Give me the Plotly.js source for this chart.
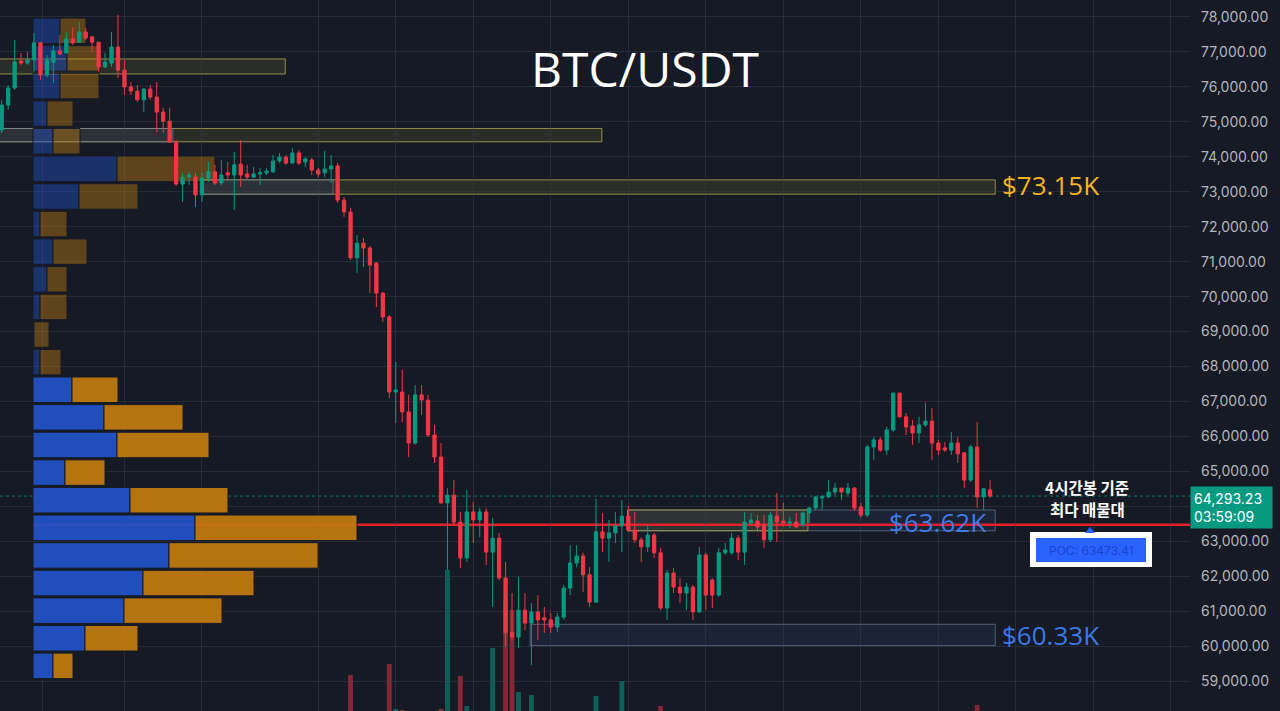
<!DOCTYPE html>
<html><head><meta charset="utf-8">
<script src="https://cdn.plot.ly/plotly-3.0.1.min.js"></script>
<style>html,body{margin:0;padding:0;background:#161a25;}#chart{width:1280px;height:711px;}</style>
</head><body><div id="chart"></div>
<script>
// ---- 4h candles (oldest -> newest) ----
const openP = [74770,75480,75970,76740,76680,76770,77260,76340,76710,77030,
76970,77370,77280,77570,77430,77280,76570,76680,77140,76480,
76000,75880,75630,75940,75710,75280,75020,74420,73220,73420,
73420,72910,73390,73570,73250,73540,73480,73790,73510,73420,
73510,73540,73570,73880,73990,73820,74110,73850,73910,73620,
73540,73650,73740,72760,72420,71110,71530,71390,70960,70100,
69420,67270,67270,66700,65810,67190,67040,66040,65410,64100,
64320,63550,62520,63840,63610,63840,62690,63090,61950,60400,
60260,61030,60660,60980,60810,60750,60550,60830,61660,62380,
62580,62040,61260,63270,63090,63240,63440,63720,63320,63040,
62840,63180,62670,61090,62090,61690,61520,61690,60980,62610,
61890,61460,62670,62670,63090,62690,63520,63580,63470,63040,
63720,63580,63520,63550,63470,63810,63950,64240,64270,64410,
64520,64380,64520,63980,63750,65700,65900,65610,66180,67240,
66560,66300,66100,66330,66440,65810,65670,65610,65810,65530,
64750,65700,64270,64470];
const highP = [75630,76050,77340,76970,77000,77540,77280,76910,77200,77490,
77570,77710,77860,77690,77460,77280,76970,77570,78060,76770,
76140,76050,75970,76050,76140,75400,75400,74480,73540,73570,
73540,73540,73850,73770,73910,73850,74140,74480,73770,73710,
73680,73680,74050,74110,74050,74250,74190,73990,73970,73680,
74170,74050,73820,72850,72540,71760,71680,71450,70990,70130,
69470,68130,67900,67190,67470,67470,67190,66330,65810,64520,
64750,63840,64470,64120,63950,63950,63670,63240,62410,61520,
61980,61520,61230,61460,61120,60950,60950,61750,62890,62890,
62670,62260,64210,63810,63610,63840,64180,64010,63840,63120,
63470,63240,62810,62180,62240,61950,61810,61750,62840,62670,
61950,62810,62950,63240,63180,63840,63810,63750,63750,63840,
64380,64100,63700,63810,63840,63980,64300,64320,64750,64670,
64520,64670,64550,64100,65760,65980,65980,66270,67240,67240,
66670,66470,66560,66960,66810,65900,65840,66130,65980,65550,
65760,66410,64520,64750];
const lowP = [74680,75340,75910,76630,76630,76430,76200,76280,76110,76910,
76970,77200,77260,77340,77000,76430,76540,76570,76250,75770,
75770,75570,75280,75630,74710,74680,74400,73170,72710,73190,
72560,72710,73280,73190,73190,73340,72480,73140,73340,73390,
73190,73480,73540,73820,73770,73820,73770,73710,73480,73420,
73420,73250,72680,72280,71050,70680,70850,70100,69700,69270,
67100,66380,66410,65410,65760,66610,65980,65240,64070,62180,
63470,62240,62410,62950,63120,62320,61120,61890,59980,60180,
59950,60460,59460,60180,60380,60380,60400,60750,61460,62260,
61550,61120,61230,62690,62410,62950,62690,63270,62950,62410,
62690,62520,61030,60750,61520,61230,61030,60750,60950,61030,
61090,61410,62610,62610,62460,62320,63470,63320,62810,62980,
62980,63410,63380,63380,63410,63520,63900,63900,64240,64320,
64180,64320,63870,63670,63700,65330,65550,65470,66130,66530,
66040,65760,65810,66270,65330,65470,65550,65470,65240,64520,
64700,63950,63900,64240];
const closeP = [75480,75970,76710,76680,76770,77260,76340,76770,77030,76940,
77370,77260,77570,77400,77280,76570,76710,77140,76480,76000,
75880,75630,75940,75710,75280,75020,74420,73220,73420,73480,
72910,73390,73570,73250,73480,73480,73770,73480,73420,73510,
73540,73590,73880,73990,73820,74110,73820,73940,73620,73510,
73650,73740,72760,72420,71110,71530,71390,70900,70100,69420,
67270,67330,66700,65810,67190,67040,66040,65410,64100,64320,
63550,62520,63840,63610,63840,62690,63090,61950,60380,60260,
61030,60660,60980,60750,60750,60550,60830,61660,62380,62580,
62040,61260,63270,63090,63240,63440,63720,63320,63040,62840,
63180,62670,61090,62090,61690,61520,61690,60980,62610,61460,
61460,62670,62750,63090,62690,63550,63610,63410,63040,63750,
63550,63520,63550,63410,63810,63950,64270,64270,64410,64520,
64410,64520,63950,63750,65700,65900,65610,66180,67240,66560,
66270,66100,66330,66440,65810,65610,65610,65810,65500,64750,
65700,64270,64500,64293.23];
const volume = [1500,1300,2100,900,800,1700,2000,1200,1400,1000,
1300,1100,1500,900,1000,1800,900,1600,2600,1900,
1000,1200,1100,900,2300,1400,1700,2800,1900,900,
1800,1500,1000,1100,1000,700,1600,1800,800,700,
600,600,1100,800,900,1200,1000,700,1000,800,
1300,1400,2700,2200,3720,2500,1600,2200,2600,2400,
3940,3040,3020,2700,2900,1800,2500,2600,3040,5820,
2900,3700,3100,2000,1800,2800,4260,2900,5220,5020,
3380,2200,3320,1900,1400,1500,1600,2100,2600,1500,
1900,2300,3300,2200,1800,1600,3600,1900,1800,1500,
1700,1600,3100,2600,1700,1300,1200,2100,2800,2400,
1600,2100,1100,1400,1300,2000,900,1100,1500,1600,
1700,1000,700,900,1200,1000,1100,800,1200,800,
700,800,1500,1200,2900,1400,1100,1500,2700,2200,
1600,1500,1300,1100,2300,1200,900,1000,1300,2500,
1900,3120,1300,700];

// ---- volume profile rows (price level centre, up / down volume) ----
const profilePrice = [77605,76815,76025,75235,74445,73655,72865,72075,71285,70495,69705,68915,68125,
67335,66545,65755,64965,64175,63385,62595,61805,61015,60225,59435];
const profileUp = [2700,3400,2700,1400,2000,8400,4600,700,2000,1400,700,100,700,
3900,7100,8400,3200,9700,16200,13600,11000,9100,5200,2000];
const profileDown = [2600,3300,3900,2600,2700,9800,5900,2700,3400,2000,2700,1500,2100,
4600,7900,9200,4000,9800,16200,14900,11100,9800,5300,2000];
const recentRowsFrom = 13;

// ---- price scale ----
const priceTicks = [59000,60000,61000,62000,63000,64000,65000,66000,67000,68000,
69000,70000,71000,72000,73000,74000,75000,76000,77000,78000];
const hiddenTick = 64000; // covered by the last-price badge

// ---- levels / labels ----
const titleText = 'BTC/USDT';
const levelTexts = ['$73.15K', '$63.62K', '$60.33K'];
const levelPrices = [73190, 63560, 60330];
const pocValue = 63473.41;
const lastPrice = 64293.23;
const countdown = '03:59:09';
const noteText = ['4시간봉 기준', '최다 매물대'];
const gridIdx = [6.3,19,31,49,61,73,85,97,109,121,133,145,157,169,181];

const idx = openP.map((_, i) => i);
const W = 1190, H = 711;
const px = x => x / W, py = y => 1 - y / H;
const BG = '#161a25', GRID = 'rgba(60,64,76,0.45)';
const UP = '#089981', DOWN = '#f23645';

const xr = [-0.263, 183.95], yr = [58144, 78486];

const upCol = profileUp.map((_, k) => k < recentRowsFrom ? 'rgba(33,84,205,0.42)' : 'rgba(33,84,205,0.9)');
const dnCol = profileDown.map((_, k) => k < recentRowsFrom ? 'rgba(196,124,14,0.42)' : 'rgba(196,124,14,0.92)');
const volCol = closeP.map((c, i) => c >= openP[i] ? 'rgba(8,153,129,0.55)' : 'rgba(242,54,69,0.5)');
const tickText = priceTicks.map(v => v === hiddenTick ? '' : v.toLocaleString('en-US', {minimumFractionDigits:2}));

const traces = [
  {type:'bar', orientation:'h', y: profilePrice, x: profileUp, xaxis:'x2', yaxis:'y', width: 730,
   marker:{color: upCol, line:{color: BG, width:1}}, hoverinfo:'skip'},
  {type:'bar', orientation:'h', y: profilePrice, x: profileDown, base: profileUp, xaxis:'x2', yaxis:'y', width: 730,
   marker:{color: dnCol, line:{color: BG, width:1}}, hoverinfo:'skip'},
  {type:'bar', x: idx, y: volume, xaxis:'x', yaxis:'y2', width:0.75, marker:{color: volCol, line:{width:0}}, hoverinfo:'skip'},
  {type:'candlestick', x: idx, open: openP, high: highP, low: lowP, close: closeP, xaxis:'x3', yaxis:'y3',
   whiskerwidth:0,
   increasing:{line:{color:UP, width:1}, fillcolor:UP},
   decreasing:{line:{color:DOWN, width:1}, fillcolor:DOWN}, hoverinfo:'skip'}
];

const yl = 'rgba(196,186,84,0.7)', yf = 'rgba(92,88,52,0.30)';
const bl = 'rgba(120,140,170,0.6)', bf = 'rgba(45,65,100,0.25)';
function box(x0, x1, y0, y1, line, fill) {
  return {type:'rect', xref:'x', yref:'y', x0, x1, y0, y1, line:{color:line, width:1}, fillcolor:fill, layer:'below'};
}
const shapes = [
  box(-2, 43.9, 76800, 76370, yl, yf),
  box(-2, 92.9, 74810, 74430, yl, yf),
  box(-2, 26.5, 74810, 74430, bl, bf),
  box(31.2, 153.8, 73340, 72930, yl, yf),
  box(31.2, 51.3, 73340, 72930, bl, bf),
  box(96.9, 153.8, 63895, 63300, bl, bf),
  box(96.9, 124.8, 63895, 63300, yl, yf),
  box(81.8, 153.8, 60625, 60015, bl, bf),
  {type:'line', xref:'x', yref:'y', x0:xr[0], x1:xr[1], y0:lastPrice, y1:lastPrice, line:{color:'rgba(8,153,129,0.75)', width:1, dash:'dot'}, layer:'below'},
  {type:'line', xref:'x', yref:'y', x0:4.85, x1:xr[1], y0:pocValue, y1:pocValue, line:{color:'#e3202c', width:2.5}, layer:'below'},
  {type:'rect', xref:'paper', yref:'paper', x0:px(1030), x1:px(1152), y0:py(567), y1:py(532), fillcolor:'#ffffff', line:{width:0}, layer:'above'},
  {type:'rect', xref:'paper', yref:'paper', x0:px(1036), x1:px(1146), y0:py(562), y1:py(538), fillcolor:'#2962ff', line:{width:0}, layer:'above'},
  {type:'path', xref:'paper', yref:'paper', path:`M ${px(1085)} ${py(533)} L ${px(1090)} ${py(527)} L ${px(1095)} ${py(533)} Z`, fillcolor:'#2962ff', line:{width:0}, layer:'above'}
];

const annotations = [
  {xref:'paper', yref:'y', x:px(1000), xanchor:'left', y:levelPrices[0], yanchor:'middle', text:levelTexts[0], showarrow:false, font:{family:'Open Sans', size:26, color:'#f5b41f'}},
  {xref:'paper', yref:'y', x:px(887), xanchor:'left', y:levelPrices[1], yanchor:'middle', text:levelTexts[1], showarrow:false, font:{family:'Open Sans', size:26, color:'#3f7be6'}},
  {xref:'paper', yref:'y', x:px(1000), xanchor:'left', y:levelPrices[2], yanchor:'middle', text:levelTexts[2], showarrow:false, font:{family:'Open Sans', size:26, color:'#3b78e6'}},
  {xref:'paper', yref:'paper', x:px(1087), xanchor:'center', y:py(487.5), yanchor:'middle', text:'<b>'+noteText[0]+'</b>', showarrow:false, borderpad:0, font:{family:'Noto Sans CJK KR', size:15.5, color:'#ffffff'}},
  {xref:'paper', yref:'paper', x:px(1087), xanchor:'center', y:py(508.5), yanchor:'middle', text:'<b>'+noteText[1]+'</b>', showarrow:false, borderpad:0, font:{family:'Noto Sans CJK KR', size:15.5, color:'#ffffff'}},
  {xref:'paper', yref:'paper', x:px(1091), xanchor:'center', y:py(550), yanchor:'middle', text:'POC: ' + pocValue.toFixed(2), showarrow:false, font:{family:'Inter', size:12, color:'#1a46c8'}},
  {xref:'paper', yref:'y', x:1, xanchor:'left', y:lastPrice, yanchor:'top', yshift:10, align:'left',
   text: lastPrice.toLocaleString('en-US',{minimumFractionDigits:2}) + '<br>' + countdown,
   showarrow:false, bgcolor:UP, borderpad:3, width:75, font:{family:'Inter', size:14, color:'#ffffff'}}
];

const layout = {
  width:1280, height:711, margin:{l:0, r:90, t:0, b:0},
  paper_bgcolor:BG, plot_bgcolor:'rgba(0,0,0,0)', showlegend:false, barmode:'overlay', boxgap:0.28,
  title:{text:titleText, x:645/1280, xref:'container', y:1-70/711, yref:'container', xanchor:'center', yanchor:'middle',
         font:{family:'Open Sans', size:48, color:'#ffffff'}},
  xaxis:{range:xr, tickmode:'array', tickvals:gridIdx, showticklabels:false, showgrid:true, gridcolor:GRID,
         zeroline:false, showline:false, ticks:'', rangeslider:{visible:false}},
  yaxis:{range:yr, side:'right', tickmode:'array', tickvals:priceTicks, ticktext:tickText, showgrid:true, gridcolor:GRID,
         zeroline:false, showline:false, ticks:'', ticklabelstandoff:10,
         tickfont:{family:'Inter', size:14, color:'#b2b5be'}},
  xaxis2:{overlaying:'x', anchor:'y', range:[-3300, 115700], visible:false},
  yaxis2:{overlaying:'y', anchor:'x', range:[3000, 17220], visible:false},
  xaxis3:{overlaying:'x', anchor:'y3', range:xr, visible:false, rangeslider:{visible:false}},
  yaxis3:{overlaying:'y', anchor:'x3', range:yr, visible:false},
  shapes, annotations
};

Plotly.newPlot('chart', traces, layout, {staticPlot:true, displayModeBar:false});
</script></body></html>
